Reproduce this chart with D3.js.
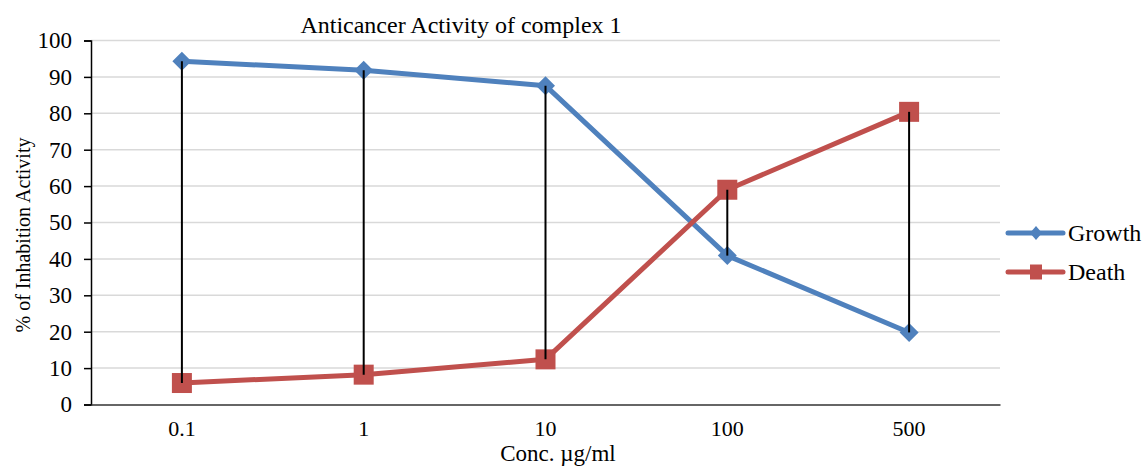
<!DOCTYPE html>
<html>
<head>
<meta charset="utf-8">
<script src="https://cdn.jsdelivr.net/npm/d3@7"></script>
<style>
  body { margin: 0; background: #fff; }
  svg text { font-family: "Liberation Serif", "Times New Roman", serif !important; fill: #000; }
</style>
</head>
<body>
<script>
// data
const concs = ["0.1", "1", "10", "100", "500"];
const growth = [94.3, 91.8, 87.6, 40.9, 19.8];
const death = [5.9, 8.2, 12.4, 59.0, 80.4];
const yTicks = [0, 10, 20, 30, 40, 50, 60, 70, 80, 90, 100];

const W = 1142, H = 466;
const m = { left: 91, right: 142, top: 40.5, bottom: 61.5 };

const svg = d3.select('body').append('svg')
    .attr('width', W).attr('height', H);

const x = d3.scaleBand().domain(concs).range([m.left, W - m.right]);
const y = d3.scaleLinear().domain([0, 100]).range([H - m.bottom, m.top]);
const cx = d => x(d) + x.bandwidth() / 2;

// gridlines
svg.append('g').selectAll('line').data(yTicks.filter(d => d > 0)).join('line')
    .attr('x1', m.left).attr('x2', W - m.right)
    .attr('y1', d => y(d)).attr('y2', d => y(d))
    .attr('stroke', '#d9d9d9').attr('stroke-width', 1.5);

// y axis
const yAxis = svg.append('g').attr('transform', `translate(${m.left},0)`)
    .call(d3.axisLeft(y).tickValues(yTicks).tickSize(7).tickPadding(12));
yAxis.attr('font-family', null);
yAxis.select('.domain').attr('stroke', '#000').attr('stroke-width', 1.5);
yAxis.selectAll('.tick line').attr('stroke', '#000').attr('stroke-width', 1.5);
yAxis.selectAll('text').style('font-size', '23px').attr('fill', '#000');

// x axis
const xAxis = svg.append('g').attr('transform', `translate(0,${y(0)})`)
    .call(d3.axisBottom(x).tickSize(0).tickPadding(15.5));
xAxis.attr('font-family', null);
xAxis.select('.domain').attr('stroke', '#333').attr('stroke-width', 1.5);
xAxis.selectAll('text').style('font-size', '22px').attr('fill', '#000');

// series lines
const line = d3.line().x((d, i) => cx(concs[i])).y(d => y(d));
svg.append('path').datum(growth).attr('d', line)
    .attr('fill', 'none').attr('stroke', '#4F81BD').attr('stroke-width', 5)
    .attr('stroke-linejoin', 'round');
svg.append('path').datum(death).attr('d', line)
    .attr('fill', 'none').attr('stroke', '#C0504D').attr('stroke-width', 5)
    .attr('stroke-linejoin', 'round');

// markers
svg.append('g').selectAll('path').data(growth).join('path')
    .attr('transform', (d, i) => `translate(${cx(concs[i])},${y(d)})`)
    .attr('d', 'M0,-9.5L9.5,0L0,9.5L-9.5,0Z')
    .attr('fill', '#4F81BD');
svg.append('g').selectAll('rect').data(death).join('rect')
    .attr('x', (d, i) => cx(concs[i]) - 10).attr('y', d => y(d) - 10)
    .attr('width', 20).attr('height', 20)
    .attr('fill', '#C0504D');

// high-low lines
svg.append('g').selectAll('line').data(concs).join('line')
    .attr('x1', d => cx(d)).attr('x2', d => cx(d))
    .attr('y1', (d, i) => y(Math.max(growth[i], death[i])))
    .attr('y2', (d, i) => y(Math.min(growth[i], death[i])))
    .attr('stroke', '#000').attr('stroke-width', 2);

// title + axis titles
svg.append('text').attr('x', 461).attr('y', 33).attr('text-anchor', 'middle')
    .style('font-size', '24px').text('Anticancer Activity of complex 1');
svg.append('text').attr('x', 558).attr('y', 461).attr('text-anchor', 'middle')
    .style('font-size', '23px').text('Conc. µg/ml');
svg.append('text').attr('transform', 'translate(30,235) rotate(-90)')
    .attr('text-anchor', 'middle').style('font-size', '20px')
    .text('% of Inhabition Activity');

// legend
const legend = [["Growth", '#4F81BD', 'diamond'], ["Death", '#C0504D', 'square']];
const lg = svg.append('g').selectAll('g').data(legend).join('g')
    .attr('transform', (d, i) => `translate(1008,${233 + i * 39})`);
lg.append('line').attr('x1', 0).attr('x2', 55)
    .attr('stroke', d => d[1]).attr('stroke-width', 5).attr('stroke-linecap', 'round');
lg.append('path')
    .attr('d', d => d[2] === 'diamond' ? 'M28,-7L34,0L28,7L22,0Z' : 'M22,-7.5H34V7.5H22Z')
    .attr('fill', d => d[1]);
lg.append('text').attr('x', 60).attr('y', 8).style('font-size', '24px').text(d => d[0]);
</script>
</body>
</html>
